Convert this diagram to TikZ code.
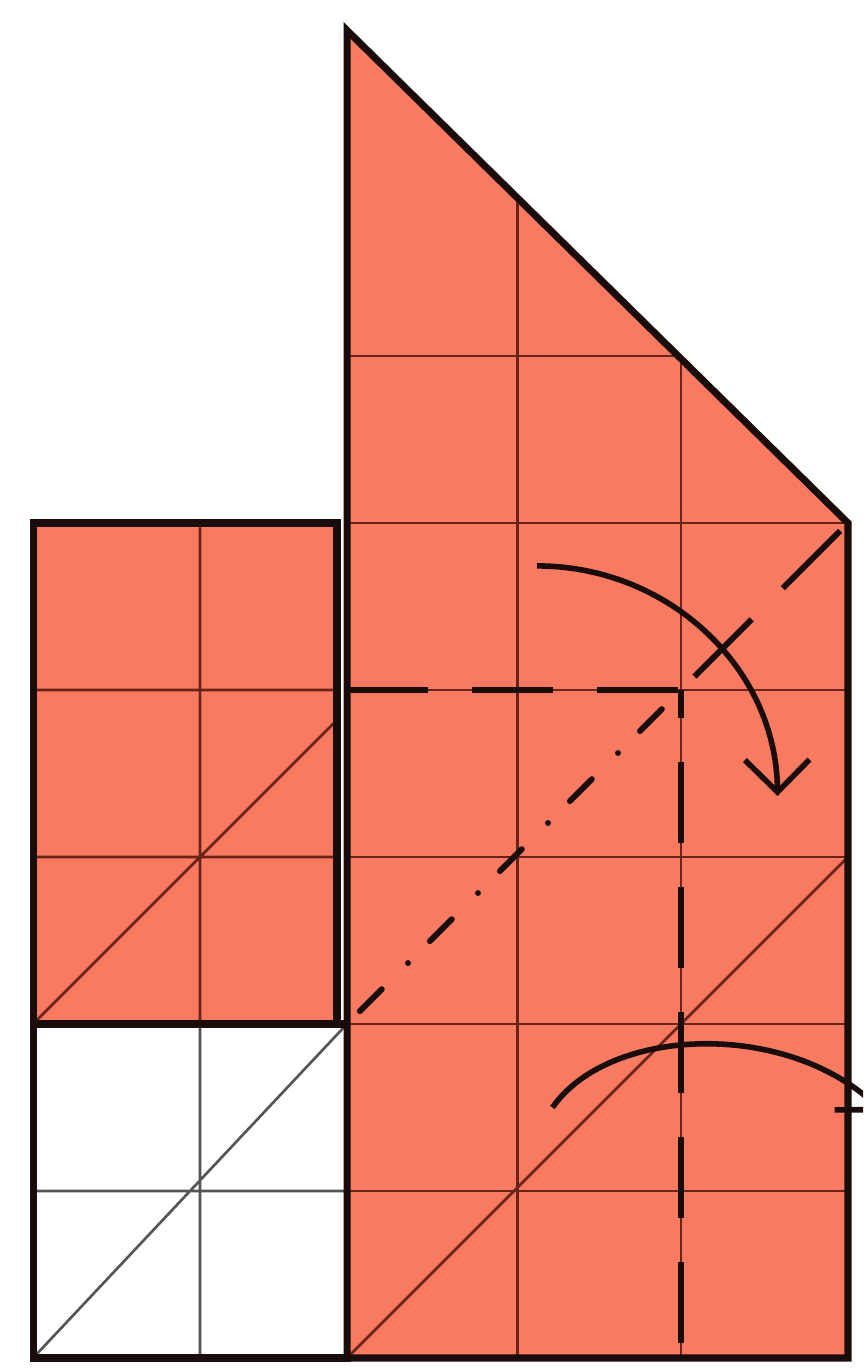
\documentclass[tikz,border=0pt]{standalone}
\usetikzlibrary{arrows.meta}
\definecolor{paper}{RGB}{248,122,96}
\definecolor{crease}{RGB}{105,35,25}
\definecolor{edge}{RGB}{25,12,10}
\definecolor{pencil}{RGB}{85,85,85}
\begin{document}
\begin{tikzpicture}[
    border/.style={draw=edge, line width=1.2pt, line join=miter},
    gridline/.style={draw=crease, line width=0.45pt},
    valley/.style={draw=edge, line width=1pt, dash pattern=on 13.8pt off 7.5pt},
    mountain/.style={draw=edge, line width=1pt, line cap=round, dash pattern=on 5.3pt off 5.27pt on 0.01pt off 6.29pt},
    turn/.style={draw=edge, line width=0.95pt, -{Straight Barb[length=5.5pt,width=11pt]}}
]
    \useasboundingbox (-0.198,-0.06) rectangle (4.97,8.132);
    \clip (-0.198,-0.06) rectangle (4.97,8.132);

    \fill[white] (0,0) rectangle (1.88,2);
    \draw[pencil, line width=0.45pt] (1,0) -- (1,2) (0,1) -- (1.88,1) (0,0) -- (1.88,2);
    \draw[border] (0,0) rectangle (1.88,2);

    \fill[paper] (0,2) rectangle (1.82,5);
    \draw[gridline] (1,2) -- (1,5) (0,3) -- (1.82,3) (0,4) -- (1.82,4) (0,2) -- (1.82,3.82);
    \draw[border] (0,2) rectangle (1.82,5);

    \fill[paper] (1.88,0) -- (4.88,0) -- (4.88,5) -- (1.88,7.95) -- cycle;
    \begin{scope}
        \clip (1.88,0) -- (4.88,0) -- (4.88,5) -- (1.88,7.95) -- cycle;
        \foreach \x in {2.9,3.88}
            \draw[gridline] (\x,0) -- (\x,8);
        \foreach \y in {1,...,6}
            \draw[gridline] (1.88,\y) -- (4.88,\y);
        \draw[gridline] (1.88,0) -- (4.88,3);
    \end{scope}
    \draw[border] (1.88,0) -- (4.88,0) -- (4.88,5) -- (1.88,7.95) -- cycle;

    \draw[valley] (1.88,4) -- (3.88,4);
    \draw[valley, dash phase=9pt] (3.88,4) -- (3.88,0);
    \draw[valley, dash phase=19.4pt] (4.88,5) -- (3.88,4);
    \draw[mountain, dash phase=12.26pt] (3.88,4) -- (1.88,2);

    \draw[turn] (3.018,4.743) arc[start angle=90, end angle=0.5, x radius=1.44, y radius=1.39];
    \draw[turn] (3.11,1.50) .. controls (3.455,1.994) and (4.533,2.024) .. (5.09,1.47);
\end{tikzpicture}
\end{document}
